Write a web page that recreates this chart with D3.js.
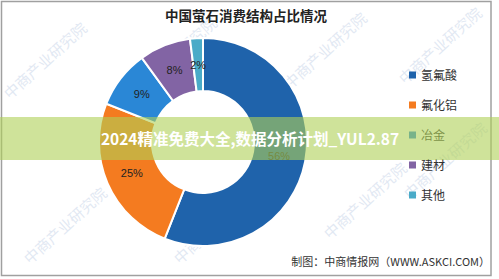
<!DOCTYPE html>
<html>
<head>
<meta charset="utf-8">
<script src="https://cdn.jsdelivr.net/npm/d3@7"></script>
<style>
  body { margin: 0; background: #fff; }
  svg { display: block; font-family: "Noto Sans CJK SC", "Microsoft YaHei", sans-serif; }
</style>
</head>
<body>
<div id="chart"></div>
<script>
// data
var categories = ["氢氟酸", "氟化铝", "冶金", "建材", "其他"];
var values = [56, 25, 9, 8, 2];
var colors = ["#1f63ab", "#f47b20", "#2a87d6", "#8264a4", "#4aabc8"];

var width = 499, height = 279;

var svg = d3.select("#chart")
    .append("svg")
    .attr("width", width)
    .attr("height", height);

svg.append("rect")
    .attr("width", width).attr("height", height)
    .attr("fill", "#fff");

// frame
svg.append("rect")
    .attr("x", 1.5).attr("y", 1.5)
    .attr("width", 489.5).attr("height", 274)
    .attr("fill", "none")
    .attr("stroke", "#a0a0a0")
    .attr("stroke-width", 1.5);

// faint watermarks
var marks = [[10, 100], [140, 95], [290, 90], [405, 85], [30, 265], [180, 265], [330, 240], [410, 200]];
svg.append("g").selectAll("text")
    .data(marks)
    .enter().append("text")
    .attr("transform", function(d) { return "translate(" + d[0] + "," + d[1] + ") rotate(-42)"; })
    .attr("font-size", 15)
    .attr("fill", "#9fb6d8")
    .attr("opacity", 0.3)
    .text("中商产业研究院");

// title
svg.append("text")
    .attr("x", 246).attr("y", 21)
    .attr("text-anchor", "middle")
    .attr("font-size", 13.5)
    .attr("font-weight", "bold")
    .attr("fill", "#222")
    .text("中国萤石消费结构占比情况");

// donut
var cx = 203, cy = 142, outerR = 104, innerR = 51;

var pie = d3.pie().sort(null).value(function(d) { return d; });
var arcs = pie(values);

var arc = d3.arc().innerRadius(innerR).outerRadius(outerR);
var labelArc = d3.arc().innerRadius((innerR + outerR) / 2).outerRadius((innerR + outerR) / 2);

var g = svg.append("g").attr("transform", "translate(" + cx + "," + cy + ")");

g.selectAll("path")
    .data(arcs)
    .enter().append("path")
    .attr("d", arc)
    .attr("fill", function(d, i) { return colors[i]; })
    .attr("stroke", "#fff")
    .attr("stroke-width", 2);

g.selectAll("text")
    .data(arcs)
    .enter().append("text")
    .attr("transform", function(d) { return "translate(" + labelArc.centroid(d) + ")"; })
    .attr("text-anchor", "middle")
    .attr("dy", "0.35em")
    .attr("font-size", 11)
    .attr("font-family", "Liberation Sans, Arial, sans-serif")
    .attr("fill", "#222")
    .text(function(d) { return d.data + "%"; });

// legend
var legendY = d3.scalePoint().domain(categories).range([75, 195]);
var legend = svg.append("g").selectAll("g")
    .data(categories)
    .enter().append("g")
    .attr("transform", function(d) { return "translate(409," + legendY(d) + ")"; });

legend.append("rect")
    .attr("x", 0).attr("y", -3.5)
    .attr("width", 7).attr("height", 7)
    .attr("fill", function(d, i) { return colors[i]; });

legend.append("text")
    .attr("x", 12).attr("dy", "0.38em")
    .attr("font-size", 12)
    .attr("fill", "#333")
    .text(function(d) { return d; });

// footer
svg.append("text")
    .attr("x", 490).attr("y", 266)
    .attr("text-anchor", "end")
    .attr("font-size", 11)
    .attr("fill", "#333")
    .text("制图：中商情报网（WWW.ASKCI.COM）");

// overlay banner
svg.append("rect")
    .attr("x", 0).attr("y", 117)
    .attr("width", width).attr("height", 43)
    .attr("fill", "rgb(175,208,87)")
    .attr("opacity", 0.6);

svg.append("text")
    .attr("x", 250).attr("y", 139)
    .attr("text-anchor", "middle")
    .attr("dy", "0.36em")
    .attr("font-size", 15.5)
    .attr("font-weight", "bold")
    .attr("fill", "#fff")
    .text("2024精准免费大全,数据分析计划_YUL2.87");
</script>
</body>
</html>
